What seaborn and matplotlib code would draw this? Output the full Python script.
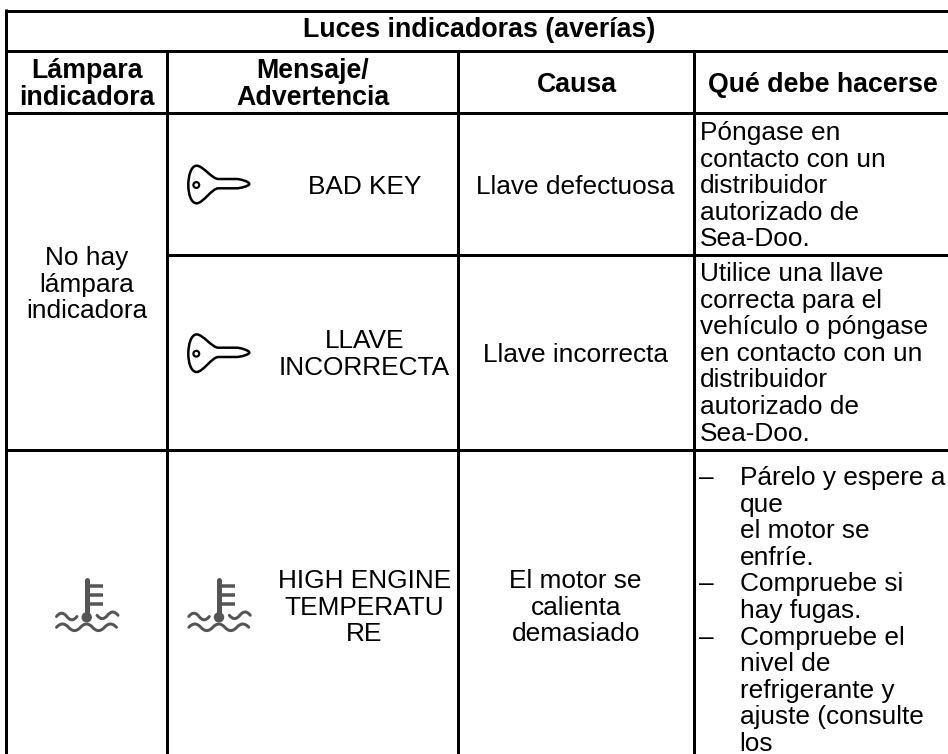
import matplotlib
matplotlib.use("Agg")
import matplotlib.pyplot as plt
import seaborn as sns
from matplotlib.patches import PathPatch, Circle
from matplotlib.path import Path

# contenido de la tabla
titulo = "Luces indicadoras (averías)"
cab_lampara = ["Lámpara", "indicadora"]
cab_mensaje = ["Mensaje/", "Advertencia"]
cab_causa = ["Causa"]
cab_hacer = ["Qué debe hacerse"]

lampara_1 = ["No hay", "lámpara", "indicadora"]
mensaje_1 = ["BAD KEY"]
mensaje_2 = ["LLAVE", "INCORRECTA"]
mensaje_3 = ["HIGH ENGINE", "TEMPERATU", "RE"]
causa_1 = ["Llave defectuosa"]
causa_2 = ["Llave incorrecta"]
causa_3 = ["El motor se", "calienta", "demasiado"]
hacer_1 = ["Póngase en", "contacto con un", "distribuidor", "autorizado de", "Sea-Doo."]
hacer_2 = ["Utilice una llave", "correcta para el", "vehículo o póngase",
           "en contacto con un", "distribuidor", "autorizado de", "Sea-Doo."]
hacer_3 = ["Párelo y espere a", "que", "el motor se", "enfríe.", "Compruebe si",
           "hay fugas.", "Compruebe el", "nivel de", "refrigerante y",
           "ajuste (consulte", "los"]
guiones_3 = [0, 4, 6]

# estilo
sns.set_theme(style="white")
plt.rcParams["font.family"] = ["Liberation Sans", "DejaVu Sans"]

fig, ax = plt.subplots(figsize=(9.48, 7.54), dpi=100)
ax.set_position([0, 0, 1, 1])
ax.set_xlim(0, 948)
ax.set_ylim(754, 0)
ax.axis("off")
sns.despine(ax=ax, left=True, bottom=True)

PX = 0.72
NEGRO = "black"
GRIS = "#555555"
LW = 3 * PX
PASO = 26.6


def bloque(lineas, x, y, ha="center", size=26.2, weight="normal"):
    for i, t in enumerate(lineas):
        ax.text(x, y + i * PASO, t, ha=ha, va="baseline", color="black",
                fontsize=size * PX, fontweight=weight)


def llave(dy):
    v = [(188.3, 185), (188.3, 176), (191, 165.7), (196.7, 165.7),
         (203, 165.7), (212, 179), (218.3, 179),
         (224, 179), (231, 179), (236.7, 179),
         (240, 179), (249.3, 181.5), (249.3, 184),
         (249.3, 186), (240, 188.3), (236.7, 188.3),
         (231, 188.3), (224, 188.3), (218.3, 188.3),
         (212, 188.3), (203, 203.3), (196.7, 203.3),
         (191, 203.3), (188.3, 194), (188.3, 185)]
    c = [Path.MOVETO] + [Path.CURVE4] * 24
    ax.add_patch(PathPatch(Path([(a, b + dy) for a, b in v], c), fc="none", ec="black", lw=2.5 * PX))
    ax.add_patch(Circle((196.3, 185 + dy), 2.9, fc="none", ec="black", lw=2.2 * PX))


def onda(x0, x1, y, n, signo=-1):
    # tramos de onda con curvas
    paso = (x1 - x0) / n
    v = [(x0, y)]
    c = [Path.MOVETO]
    for i in range(n):
        s = signo if i % 2 == 0 else -signo
        xa = x0 + i * paso
        v += [(xa + paso * 0.35, y + s * 4.4), (xa + paso * 0.65, y + s * 4.4), (xa + paso, y)]
        c += [Path.CURVE4] * 3
    ax.add_patch(PathPatch(Path(v, c), fc="none", ec=GRIS, lw=3 * PX, capstyle="round"))


def termometro(dx):
    ax.plot([86.7 + dx, 86.7 + dx], [579.5, 616], color=GRIS, lw=5 * PX, solid_capstyle="round")
    ax.add_patch(Circle((86.7 + dx, 617.3), 5.2, fc=GRIS, ec="none"))
    for y in [585.7, 595, 604.3]:
        ax.plot([87 + dx, 102.7 + dx], [y, y], color=GRIS, lw=3.5 * PX, solid_capstyle="butt")
    onda(56.5 + dx, 77 + dx, 616.5, 2)
    onda(97 + dx, 118 + dx, 615.3, 2, signo=1)
    onda(56.5 + dx, 116.5 + dx, 627.3, 5)


# líneas de la tabla
ax.hlines([10.7, 51.3, 113, 450.3], 5, 948, color=NEGRO, lw=LW)
ax.hlines(255, 167.5, 948, color=NEGRO, lw=LW)
ax.vlines(6.5, 9.2, 754, color=NEGRO, lw=LW)
ax.vlines([167.5, 458.3, 694], 51.3, 754, color=NEGRO, lw=LW)

# cabeceras
bloque([titulo], 479.5, 37.3, size=26.7, weight="bold")
bloque(cab_lampara, 87, 78.3, size=26.7, weight="bold")
bloque(cab_mensaje, 313, 78.3, size=26.7, weight="bold")
bloque(cab_causa, 576.5, 91.7, size=26.7, weight="bold")
bloque(cab_hacer, 823, 91.7, size=26.7, weight="bold")

# primera columna
bloque(lampara_1, 87, 265)
termometro(0)

# mensajes
llave(0)
llave(168.7)
termometro(132.3)
bloque(mensaje_1, 364.5, 194.3)
bloque(mensaje_2, 364.5, 348)
bloque(mensaje_3, 364.5, 588)

# causas
bloque(causa_1, 575.7, 194.3)
bloque(causa_2, 575.7, 361.7)
bloque(causa_3, 575.7, 588)

# qué hacer
bloque(hacer_1, 700, 140, ha="left")
bloque(hacer_2, 700, 281, ha="left")
bloque(hacer_3, 739.7, 485, ha="left")
for i in guiones_3:
    ax.text(699, 485 + i * PASO, "–", ha="left", va="baseline", color="black", fontsize=26.2 * PX)

fig.savefig("out.png", dpi=100)
